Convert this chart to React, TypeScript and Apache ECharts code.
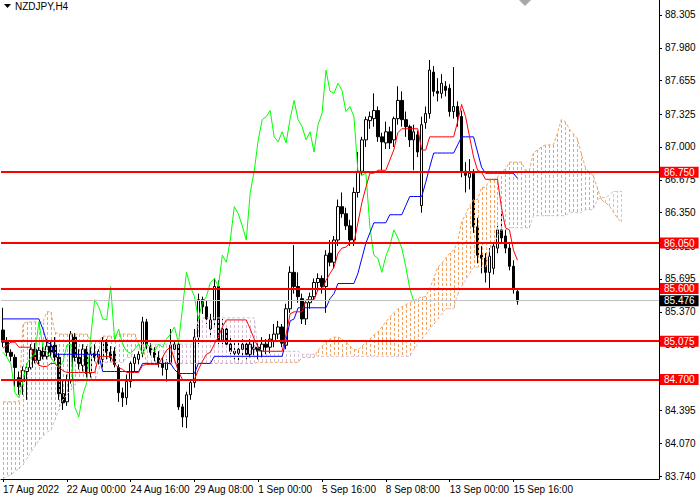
import React, { useEffect, useRef } from "react";
import * as echarts from "echarts";

// ---------- DATA ----------
const symbolLabel = "NZDJPY,H4";
const timeLabels = ["17 Aug 2022", "22 Aug 00:00", "24 Aug 16:00", "29 Aug 08:00", "1 Sep 00:00", "5 Sep 16:00", "8 Sep 08:00", "13 Sep 00:00", "15 Sep 16:00"];
const BARS_PER_LABEL = 16;
const SLOT_COUNT = 165; // bar slots across the window (incl. future cloud + chart shift)

const priceTicks = [83.74, 84.07, 84.395, 84.72, 85.045, 85.37, 85.695, 86.02, 86.35, 86.675, 87.0, 87.325, 87.655, 87.98, 88.305];
// tick labels that are fully hidden behind a level tag in the reference
const hiddenTickLabels = [84.72];
const Y_MIN = 83.717;
const Y_MAX = 88.453;

const levels = [86.75, 86.05, 85.6, 85.075, 84.7];
const bidPrice = 85.476;

const opens = [
  85.19, 85.07, 84.97, 84.92, 84.72, 84.68, 84.78, 84.82, 85.0, 84.89,
  84.98, 84.93, 85.03, 85.04, 84.92, 84.56, 84.48, 84.7, 85.12, 84.92,
  84.84, 85.0, 84.76, 84.96, 84.92, 84.9, 85.08, 84.97, 84.98, 84.82,
  84.57, 84.52, 84.68, 84.86, 84.9, 84.96, 85.27, 85.02, 84.97, 84.92,
  84.86, 84.8, 84.87, 85.0, 85.05, 84.43, 84.33, 84.55, 84.67, 85.12,
  85.49, 85.42, 85.2, 85.29, 85.62, 85.09, 85.2, 85.05, 84.98, 84.96,
  85.0, 85.05, 84.95, 85.0, 85.02, 84.98, 85.05, 85.02, 85.08, 85.15,
  85.22, 85.04, 85.4, 85.76, 85.62, 85.5, 85.3, 85.46, 85.52, 85.66,
  85.7, 85.62, 85.95, 85.86, 86.08, 86.41, 86.34, 86.22, 86.08, 86.55,
  86.76, 87.07, 87.26, 87.28, 87.36, 87.1, 87.04, 87.15, 87.07, 87.28,
  87.46, 87.27, 87.2, 87.07, 87.12, 86.42, 87.24, 87.33, 87.74, 87.55,
  87.53, 87.6, 87.58, 87.35, 87.4, 87.3, 86.76, 86.7, 86.74, 86.21,
  85.93, 85.9, 85.76, 85.8, 86.0, 86.18, 86.12, 86.0, 85.82, 85.57,
];
const highs = [
  85.41, 85.12, 85.0, 84.95, 84.78, 84.83, 84.86, 85.05, 85.06, 85.02,
  85.05, 85.1, 85.08, 85.12, 84.96, 84.7, 84.75, 85.18, 85.16, 85.0,
  85.05, 85.03, 85.02, 85.05, 85.0, 85.12, 85.1, 85.03, 85.02, 84.85,
  84.62, 84.75, 84.88, 84.95, 84.98, 85.32, 85.3, 85.06, 85.02, 84.98,
  84.92, 84.9, 85.2, 85.08, 85.06, 84.46, 84.58, 84.7, 85.2, 85.55,
  85.52, 85.48, 85.35, 85.7, 85.68, 85.3, 85.24, 85.12, 85.06, 85.08,
  85.1, 85.08, 85.1, 85.08, 85.06, 85.12, 85.1, 85.15, 85.25, 85.28,
  85.25, 85.45, 85.82, 86.03, 85.76, 85.55, 85.48, 85.56, 85.7, 85.75,
  85.73, 85.98, 86.08, 86.12, 86.48, 86.55, 86.4, 86.28, 86.6, 86.95,
  87.1, 87.3, 87.35, 87.53, 87.4, 87.14, 87.25, 87.2, 87.3, 87.6,
  87.55, 87.35, 87.22, 87.22, 87.16, 87.3, 87.4, 87.86, 87.8, 87.68,
  87.72, 87.65, 87.62, 87.79, 87.45, 87.36, 86.85, 86.88, 86.78, 86.3,
  86.02, 85.95, 86.0, 86.06, 86.22, 86.35, 86.18, 86.05, 85.88, 85.6,
];
const lows = [
  85.02, 84.93, 84.88, 84.63, 84.55, 84.55, 84.5, 84.8, 84.86, 84.85,
  84.9, 84.9, 84.92, 84.88, 84.5, 84.4, 84.44, 84.66, 84.88, 84.8,
  84.78, 84.72, 84.72, 84.88, 84.85, 84.82, 84.9, 84.88, 84.82, 84.48,
  84.43, 84.45, 84.62, 84.78, 84.85, 84.92, 85.0, 84.94, 84.88, 84.82,
  84.74, 84.68, 84.85, 84.96, 84.4, 84.23, 84.22, 84.5, 84.62, 85.05,
  85.35, 85.25, 85.12, 85.22, 85.05, 85.05, 85.02, 84.95, 84.9, 84.86,
  84.92, 84.9, 84.92, 84.94, 84.9, 84.92, 84.95, 84.96, 85.02, 85.1,
  85.02, 85.0, 85.36, 85.55, 85.46, 85.25, 85.24, 85.4, 85.48, 85.58,
  85.55, 85.36, 85.82, 85.8, 86.02, 86.3, 86.18, 86.02, 86.02, 86.5,
  86.72, 87.0, 87.18, 87.2, 87.05, 86.77, 86.98, 86.98, 87.0, 87.22,
  87.2, 87.1, 87.0, 86.77, 86.9, 86.35, 87.18, 87.28, 87.5, 87.45,
  87.48, 87.5, 87.3, 87.28, 87.2, 86.7, 86.55, 86.58, 86.15, 85.85,
  85.75, 85.66, 85.6, 85.74, 85.95, 86.05, 85.95, 85.78, 85.55, 85.44,
];
const closes = [
  85.07, 84.97, 84.93, 84.82, 84.63, 84.79, 84.82, 85.0, 84.89, 84.99,
  84.93, 85.03, 84.97, 84.92, 84.56, 84.47, 84.7, 85.15, 84.92, 84.86,
  85.0, 84.76, 84.96, 84.92, 84.98, 85.08, 84.97, 84.92, 84.85, 84.57,
  84.52, 84.68, 84.86, 84.92, 84.95, 85.27, 85.02, 84.97, 84.92, 84.86,
  84.82, 84.87, 85.04, 85.05, 84.43, 84.33, 84.55, 84.67, 85.12, 85.49,
  85.42, 85.3, 85.29, 85.62, 85.09, 85.2, 85.05, 84.98, 84.96, 85.0,
  85.05, 84.95, 85.05, 85.02, 84.98, 85.05, 85.02, 85.1, 85.15, 85.22,
  85.06, 85.4, 85.76, 85.62, 85.52, 85.3, 85.46, 85.52, 85.66, 85.7,
  85.62, 85.93, 85.86, 86.08, 86.41, 86.34, 86.22, 86.08, 86.55, 86.76,
  87.07, 87.27, 87.3, 87.36, 87.1, 87.05, 87.15, 87.04, 87.28, 87.46,
  87.27, 87.2, 87.07, 87.15, 86.95, 87.22, 87.33, 87.76, 87.55, 87.53,
  87.63, 87.56, 87.35, 87.4, 87.3, 86.76, 86.72, 86.74, 86.21, 85.93,
  85.9, 85.76, 85.92, 86.02, 86.18, 86.1, 86.0, 85.82, 85.6, 85.476,
];

const tenkan = [
  85.01, 85.04, 85.07, 85.07, 85.02, 85.02, 85.02, 85.02, 84.9, 84.84,
  84.83, 84.83, 84.86, 84.86, 84.82, 84.79, 84.77, 84.77, 84.77, 84.77,
  84.77, 84.77, 84.77, 84.77, 84.93, 84.93, 84.93, 84.93, 84.85, 84.82,
  84.8, 84.77, 84.77, 84.77, 84.77, 84.84, 84.85, 84.85, 84.85, 84.85,
  84.92, 84.99, 85.02, 84.9, 84.78, 84.7, 84.7, 84.7, 84.7, 84.8,
  84.88, 84.95, 84.97, 85.05, 85.12, 85.22, 85.29, 85.29, 85.29, 85.29,
  85.29, 85.29, 85.2, 85.1, 85.02, 84.98, 84.98, 84.98, 84.98, 84.98,
  84.98, 85.15, 85.35, 85.37, 85.37, 85.37, 85.49, 85.49, 85.49, 85.59,
  85.59, 85.68, 85.75, 85.81, 85.95, 86.0, 86.01, 86.05, 86.05, 86.25,
  86.45, 86.6, 86.74, 86.74, 86.77, 86.77, 86.77, 86.87, 86.97, 87.14,
  87.18, 87.18, 87.18, 87.18, 87.18, 86.97, 86.97, 87.1, 87.1, 87.1,
  87.1, 87.1, 87.1, 87.1, 87.25, 87.42, 87.3, 87.1, 86.9, 86.77,
  86.75, 86.68, 86.68, 86.68, 86.68, 86.4, 86.2, 86.18, 85.98, 85.88,
];

const kijun = [
  85.3, 85.3, 85.3, 85.3, 85.3, 85.3, 85.3, 85.3, 85.3, 85.3,
  85.2, 85.07, 85.05, 84.95, 84.95, 84.95, 84.95, 84.95, 84.95, 84.95,
  84.95, 84.95, 84.95, 84.95, 84.95, 84.78, 84.78, 84.78, 84.78, 84.78,
  84.78, 84.78, 84.78, 84.78, 84.78, 84.86, 84.86, 84.86, 84.86, 84.86,
  84.86, 84.86, 84.86, 84.8, 84.76, 84.76, 84.76, 84.76, 84.76, 84.86,
  84.86, 84.86, 84.86, 84.93, 84.93, 84.93, 84.93, 84.93, 84.93, 84.93,
  84.93, 84.93, 84.93, 84.93, 84.93, 84.93, 84.93, 84.93, 84.93, 84.93,
  84.93, 85.09, 85.28, 85.3, 85.41, 85.41, 85.41, 85.41, 85.41, 85.41,
  85.41, 85.41, 85.5, 85.55, 85.65, 85.65, 85.65, 85.65, 85.65, 85.75,
  85.9, 86.05, 86.15, 86.25, 86.25, 86.25, 86.25, 86.33, 86.33, 86.33,
  86.33, 86.42, 86.51, 86.51, 86.51, 86.51, 86.65, 86.8, 86.94, 86.94,
  86.94, 86.94, 86.94, 86.94, 87.02, 87.1, 87.1, 87.1, 87.1, 86.95,
  86.8, 86.74, 86.74, 86.74, 86.74, 86.74, 86.74, 86.74, 86.74, 86.69,
];

const senkouA = [
  84.48, 84.48, 84.48, 84.48, 84.48, 85.25, 85.27, 85.27, 85.27, 85.27,
  85.27, 85.37, 85.37, 85.17, 85.15, 85.15, 85.15, 85.15, 85.15, 85.15,
  85.15, 85.15, 85.08, 85.08, 85.08, 85.13, 85.13, 85.13, 85.13, 85.15,
  85.15, 85.15, 85.15, 85.15, 85.05, 85.05, 84.86, 84.86, 84.86, 84.86,
  84.86, 84.86, 84.86, 84.86, 84.86, 84.86, 84.86, 84.86, 84.86, 84.86,
  84.86, 84.86, 84.86, 84.86, 84.86, 84.86, 84.86, 84.86, 84.86, 84.86,
  84.86, 84.86, 84.86, 84.86, 84.87, 84.87, 84.87, 84.87, 84.87, 84.87,
  84.87, 84.87, 84.87, 84.87, 84.87, 84.92, 84.92, 84.92, 84.92, 84.99,
  85.03, 85.07, 85.1, 85.12, 85.12, 85.1, 85.07, 85.03, 85.0, 84.99,
  85.03, 85.07, 85.1, 85.14, 85.17, 85.22, 85.27, 85.32, 85.36, 85.4,
  85.42, 85.44, 85.46, 85.48, 85.5, 85.52, 85.52, 85.6, 85.7, 85.81,
  85.85, 85.9, 85.95, 85.98, 86.06, 86.26, 86.33, 86.42, 86.48, 86.48,
  86.6, 86.6, 86.67, 86.67, 86.7, 86.76, 86.78, 86.85, 86.85, 86.85,
  86.85, 86.77, 86.77, 86.94, 86.97, 87.0, 87.02, 87.02, 87.02, 87.13,
  87.27, 87.25, 87.18, 87.13, 87.08, 86.94, 86.8, 86.75, 86.72, 86.6,
  86.48, 86.45, 86.42, 86.36, 86.3, 86.26,
];

const senkouB = [
  83.72, 83.74, 83.76, 83.79, 83.82, 83.86, 83.92, 83.98, 84.04, 84.1,
  84.14, 84.18, 84.2, 84.3, 84.4, 84.5, 84.55, 84.6, 84.65, 84.69,
  84.69, 84.69, 84.69, 84.69, 84.8, 84.87, 84.87, 84.87, 84.87, 84.87,
  84.87, 84.92, 84.92, 85.0, 85.0, 85.0, 85.05, 85.05, 85.05, 85.05,
  85.05, 85.05, 85.05, 85.05, 85.05, 85.05, 85.05, 85.05, 85.05, 85.31,
  85.31, 85.31, 85.31, 85.31, 85.31, 85.31, 85.31, 85.31, 85.31, 85.31,
  85.31, 85.31, 85.31, 85.31, 84.98, 84.98, 84.98, 84.98, 84.98, 84.98,
  84.98, 84.98, 84.98, 84.98, 84.98, 84.95, 84.95, 84.95, 84.95, 84.93,
  84.93, 84.93, 84.93, 84.93, 84.93, 84.93, 84.93, 84.93, 84.93, 84.93,
  84.93, 84.93, 84.93, 84.93, 84.93, 84.93, 84.93, 84.93, 84.93, 84.93,
  84.93, 84.93, 84.93, 85.0, 85.05, 85.1, 85.15, 85.2, 85.25, 85.3,
  85.35, 85.4, 85.4, 85.4, 85.55, 85.62, 85.68, 85.75, 85.81, 85.81,
  85.81, 85.81, 85.98, 86.05, 86.11, 86.18, 86.18, 86.2, 86.2, 86.2,
  86.2, 86.2, 86.2, 86.32, 86.32, 86.32, 86.32, 86.32, 86.32, 86.32,
  86.32, 86.32, 86.35, 86.35, 86.35, 86.35, 86.38, 86.38, 86.38, 86.48,
  86.5, 86.5, 86.52, 86.56, 86.56, 86.56,
];

const CHIKOU_SHIFT = 26;

// ---------- STYLE ----------
const FONT = "Liberation Sans";
const C_TENKAN = "#ff0000";
const C_KIJUN = "#0000ff";
const C_CHIKOU = "#00ff00";
const C_SPAN_A = "#f4a460";
const C_SPAN_B = "#d8bfd8";
const DASH = 3;
const GAP = 2;

export default function App() {
  const ref = useRef<HTMLDivElement>(null);

  useEffect(() => {
    document.body.style.margin = "0";
    if (!ref.current) return;
    const chart = echarts.init(ref.current, null, { renderer: "svg" });

    const slots = Array.from({ length: SLOT_COUNT }, (_, i) => String(i));
    const candleData = opens.map((o, i) => [o, closes[i], lows[i], highs[i]]);
    const chikou = closes.slice(CHIKOU_SHIFT);
    const cloudData = senkouA.map((a, i) => [i, a, senkouB[i]]);
    const showSlot = (idx: number) =>
      idx % BARS_PER_LABEL === 0 && idx / BARS_PER_LABEL < timeLabels.length;

    const tagLabel = (v: number, bg: string) => ({
      show: true,
      position: "end",
      distance: 1,
      formatter: v.toFixed(3),
      color: "#ffffff",
      backgroundColor: bg,
      padding: [1, 4, 0, 4],
      fontSize: 10,
      fontFamily: FONT,
    });
    const levelLines = levels.map((v) => ({
      yAxis: v,
      lineStyle: { color: "#ff0000", width: 2, type: "solid" },
      label: tagLabel(v, "#ff0000"),
    }));
    const bidLine = {
      yAxis: bidPrice,
      lineStyle: { color: "#c0c0c0", width: 1, type: "solid" },
      label: tagLabel(bidPrice, "#000000"),
    };

    chart.setOption({
      animation: false,
      backgroundColor: "#ffffff",
      grid: { left: 0, top: 0, right: 41, bottom: 21, containLabel: false },
      xAxis: {
        type: "category",
        data: slots,
        boundaryGap: true,
        axisLine: { show: true, lineStyle: { color: "#000", width: 1 } },
        axisTick: {
          show: true,
          alignWithLabel: true,
          length: 3,
          interval: (idx: number) => showSlot(idx),
          lineStyle: { color: "#000" },
        },
        axisLabel: {
          show: true,
          interval: (idx: number) => showSlot(idx),
          formatter: (_v: string, idx: number) =>
            showSlot(idx) ? timeLabels[idx / BARS_PER_LABEL] : "",
          align: "left",
          margin: 5,
          color: "#000",
          fontSize: 10,
          fontFamily: FONT,
        },
        splitLine: { show: false },
      },
      yAxis: {
        type: "value",
        position: "right",
        min: Y_MIN,
        max: Y_MAX,
        axisLine: { show: true, lineStyle: { color: "#000", width: 1 } },
        axisTick: {
          show: true,
          length: 3,
          customValues: priceTicks,
          lineStyle: { color: "#000" },
        },
        axisLabel: {
          show: true,
          customValues: priceTicks.filter((t) => !hiddenTickLabels.includes(t)),
          formatter: (v: number) => v.toFixed(3),
          margin: 6,
          color: "#000",
          fontSize: 10,
          fontFamily: FONT,
        },
        splitLine: { show: false },
      },
      graphic: [
        {
          type: "polygon",
          shape: { points: [[4, 4], [11, 4], [7.5, 8]] },
          style: { fill: "#000" },
          z: 100,
        },
        {
          type: "text",
          x: 15,
          y: 1,
          style: { text: symbolLabel, fill: "#000", font: `10px "${FONT}"` },
          z: 100,
        },
        {
          type: "polygon",
          shape: { points: [[519, 0], [531, 0], [525, 6]] },
          style: { fill: "#a8a8a8" },
          z: 100,
        },
      ],
      series: [
        {
          name: "price",
          type: "candlestick",
          data: candleData,
          barWidth: 3,
          z: 2,
          itemStyle: {
            color: "#ffffff",
            color0: "#000000",
            borderColor: "#000000",
            borderColor0: "#000000",
            borderWidth: 1,
          },
        },
        {
          name: "cloud",
          type: "custom",
          z: 3,
          data: cloudData,
          encode: { x: 0, y: [1, 2] },
          renderItem: (_params: any, api: any) => {
            const i = api.value(0);
            const a = api.value(1);
            const b = api.value(2);
            const pA = api.coord([i, a]);
            const pB = api.coord([i, b]);
            const x = Math.round(pA[0]);
            const yA = Math.round(pA[1]);
            const yB = Math.round(pB[1]);
            const up = a >= b; // span A above span B -> sandy brown hatch
            const fill = up ? C_SPAN_A : C_SPAN_B;
            const len = Math.abs(yB - yA);
            const children: any[] = [];
            // dotted histogram drawn from span A towards span B
            for (let d = 0; d < len; d += DASH + GAP) {
              const h = Math.min(DASH, len - d);
              const y = up ? yA + d : yA - d - h;
              children.push({
                type: "rect",
                shape: { x, y, width: 1, height: h },
                style: { fill, stroke: null },
              });
            }
            return { type: "group", children };
          },
        },
        {
          name: "spanA",
          type: "line",
          data: senkouA,
          z: 3,
          showSymbol: false,
          lineStyle: { color: C_SPAN_A, width: 1, type: [3, 2] },
        },
        {
          name: "spanB",
          type: "line",
          data: senkouB,
          z: 3,
          showSymbol: false,
          lineStyle: { color: C_SPAN_B, width: 1, type: [3, 2] },
        },
        {
          name: "chikou",
          type: "line",
          data: chikou,
          z: 4,
          showSymbol: false,
          lineStyle: { color: C_CHIKOU, width: 1 },
        },
        {
          name: "kijun",
          type: "line",
          data: kijun,
          z: 4,
          showSymbol: false,
          lineStyle: { color: C_KIJUN, width: 1 },
        },
        {
          name: "tenkan",
          type: "line",
          data: tenkan,
          z: 4,
          showSymbol: false,
          lineStyle: { color: C_TENKAN, width: 1 },
        },
        {
          name: "levels",
          type: "line",
          data: [],
          z: 6,
          markLine: {
            silent: true,
            symbol: ["none", "none"],
            animation: false,
            data: [bidLine, ...levelLines],
          },
        },
      ],
    });

    return () => chart.dispose();
  }, []);

  return <div ref={ref} style={{ width: 700, height: 500 }} />;
}
